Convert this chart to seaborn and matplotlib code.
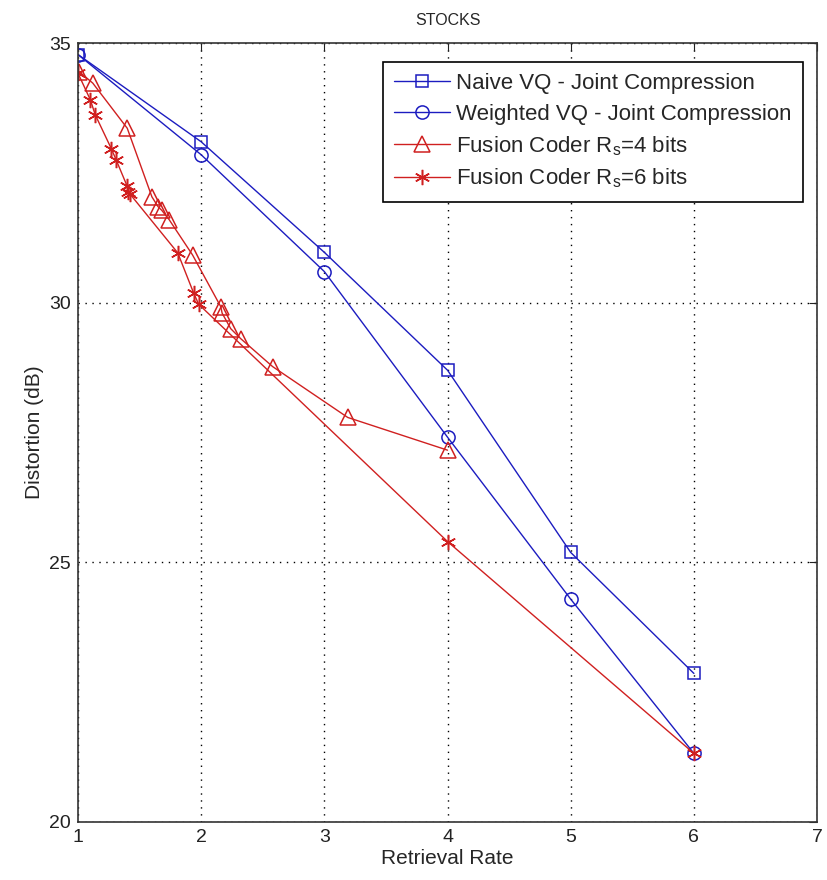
import matplotlib
matplotlib.use("Agg")
import matplotlib.pyplot as plt
import pandas as pd
import seaborn as sns

# data
naive_x = [1, 2, 3, 4, 5, 6]
naive_y = [34.78, 33.1, 30.97, 28.7, 25.19, 22.86]

weighted_x = [1, 2, 3, 4, 5, 6]
weighted_y = [34.78, 32.85, 30.6, 27.41, 24.29, 21.32]

fusion4_x = [1.01, 1.12, 1.40, 1.60, 1.65, 1.68, 1.74, 1.93, 2.16, 2.17, 2.24, 2.32, 2.58, 3.19, 4.0]
fusion4_y = [34.45, 34.23, 33.36, 32.04, 31.85, 31.78, 31.6, 30.92, 29.92, 29.8, 29.5, 29.31, 28.77, 27.79, 27.16]

fusion6_x = [1.0, 1.10, 1.14, 1.27, 1.31, 1.40, 1.41, 1.42, 1.81, 1.94, 1.98, 4.0, 6.0]
fusion6_y = [34.42, 33.91, 33.62, 32.97, 32.75, 32.24, 32.14, 32.1, 30.96, 30.18, 29.97, 25.4, 21.32]

labels = [
    "Naive VQ - Joint Compression",
    "Weighted VQ - Joint Compression",
    "Fusion Coder R$_s$=4 bits",
    "Fusion Coder R$_s$=6 bits",
]

blue = "#1c1cc0"
red = "#d02020"

sns.set_style("white")
plt.rcParams["font.family"] = ["Liberation Sans", "DejaVu Sans"]
plt.rcParams["mathtext.fontset"] = "custom"
plt.rcParams["mathtext.rm"] = "Liberation Sans"
plt.rcParams["mathtext.it"] = "Liberation Sans"

fig = plt.figure(figsize=(8.27, 8.8), dpi=100)
ax = fig.add_axes([0.0943, 0.066, 0.8937, 0.885])

series = [
    (naive_x, naive_y, "s", blue, 8.5, labels[0]),
    (weighted_x, weighted_y, "o", blue, 9.5, labels[1]),
    (fusion4_x, fusion4_y, "^", red, 11, labels[2]),
    (fusion6_x, fusion6_y, (6, 2, 0), red, 11, labels[3]),
]
for xs, ys, mk, col, ms, lab in series:
    df = pd.DataFrame({"x": xs, "y": ys})
    sns.lineplot(data=df, x="x", y="y", sort=False, estimator=None, ax=ax,
                 color=col, marker=mk, markersize=ms, mfc="none", mec=col,
                 mew=1.1, linewidth=1.0, label=lab)

ax.set_xlim(1, 7)
ax.set_ylim(20, 35)
ax.set_xticks([1, 2, 3, 4, 5, 6, 7])
ax.set_yticks([20, 25, 30, 35])
ax.grid(True, linestyle=(0, (1, 4)), color="k", linewidth=1.0)
ax.tick_params(direction="in", length=6, top=True, right=True, labelsize=14,
               colors="#222222", pad=5)
for sp in ax.spines.values():
    sp.set_visible(True)
    sp.set_color("#333333")
    sp.set_linewidth(1.2)

ax.set_xlabel("Retrieval Rate", fontsize=15, labelpad=2)
ax.set_ylabel("Distortion (dB)", fontsize=15, labelpad=4)
ax.set_title("STOCKS", fontsize=11.5, pad=13)

leg = ax.legend(loc="upper right", bbox_to_anchor=(0.981, 0.9756), fontsize=16,
                frameon=True, fancybox=False, edgecolor="k", framealpha=1,
                handlelength=2.5, handletextpad=0.3, borderpad=0.5,
                labelspacing=0.42, borderaxespad=0)
leg.get_frame().set_linewidth(1.2)

fig.savefig("out.png", dpi=100)
